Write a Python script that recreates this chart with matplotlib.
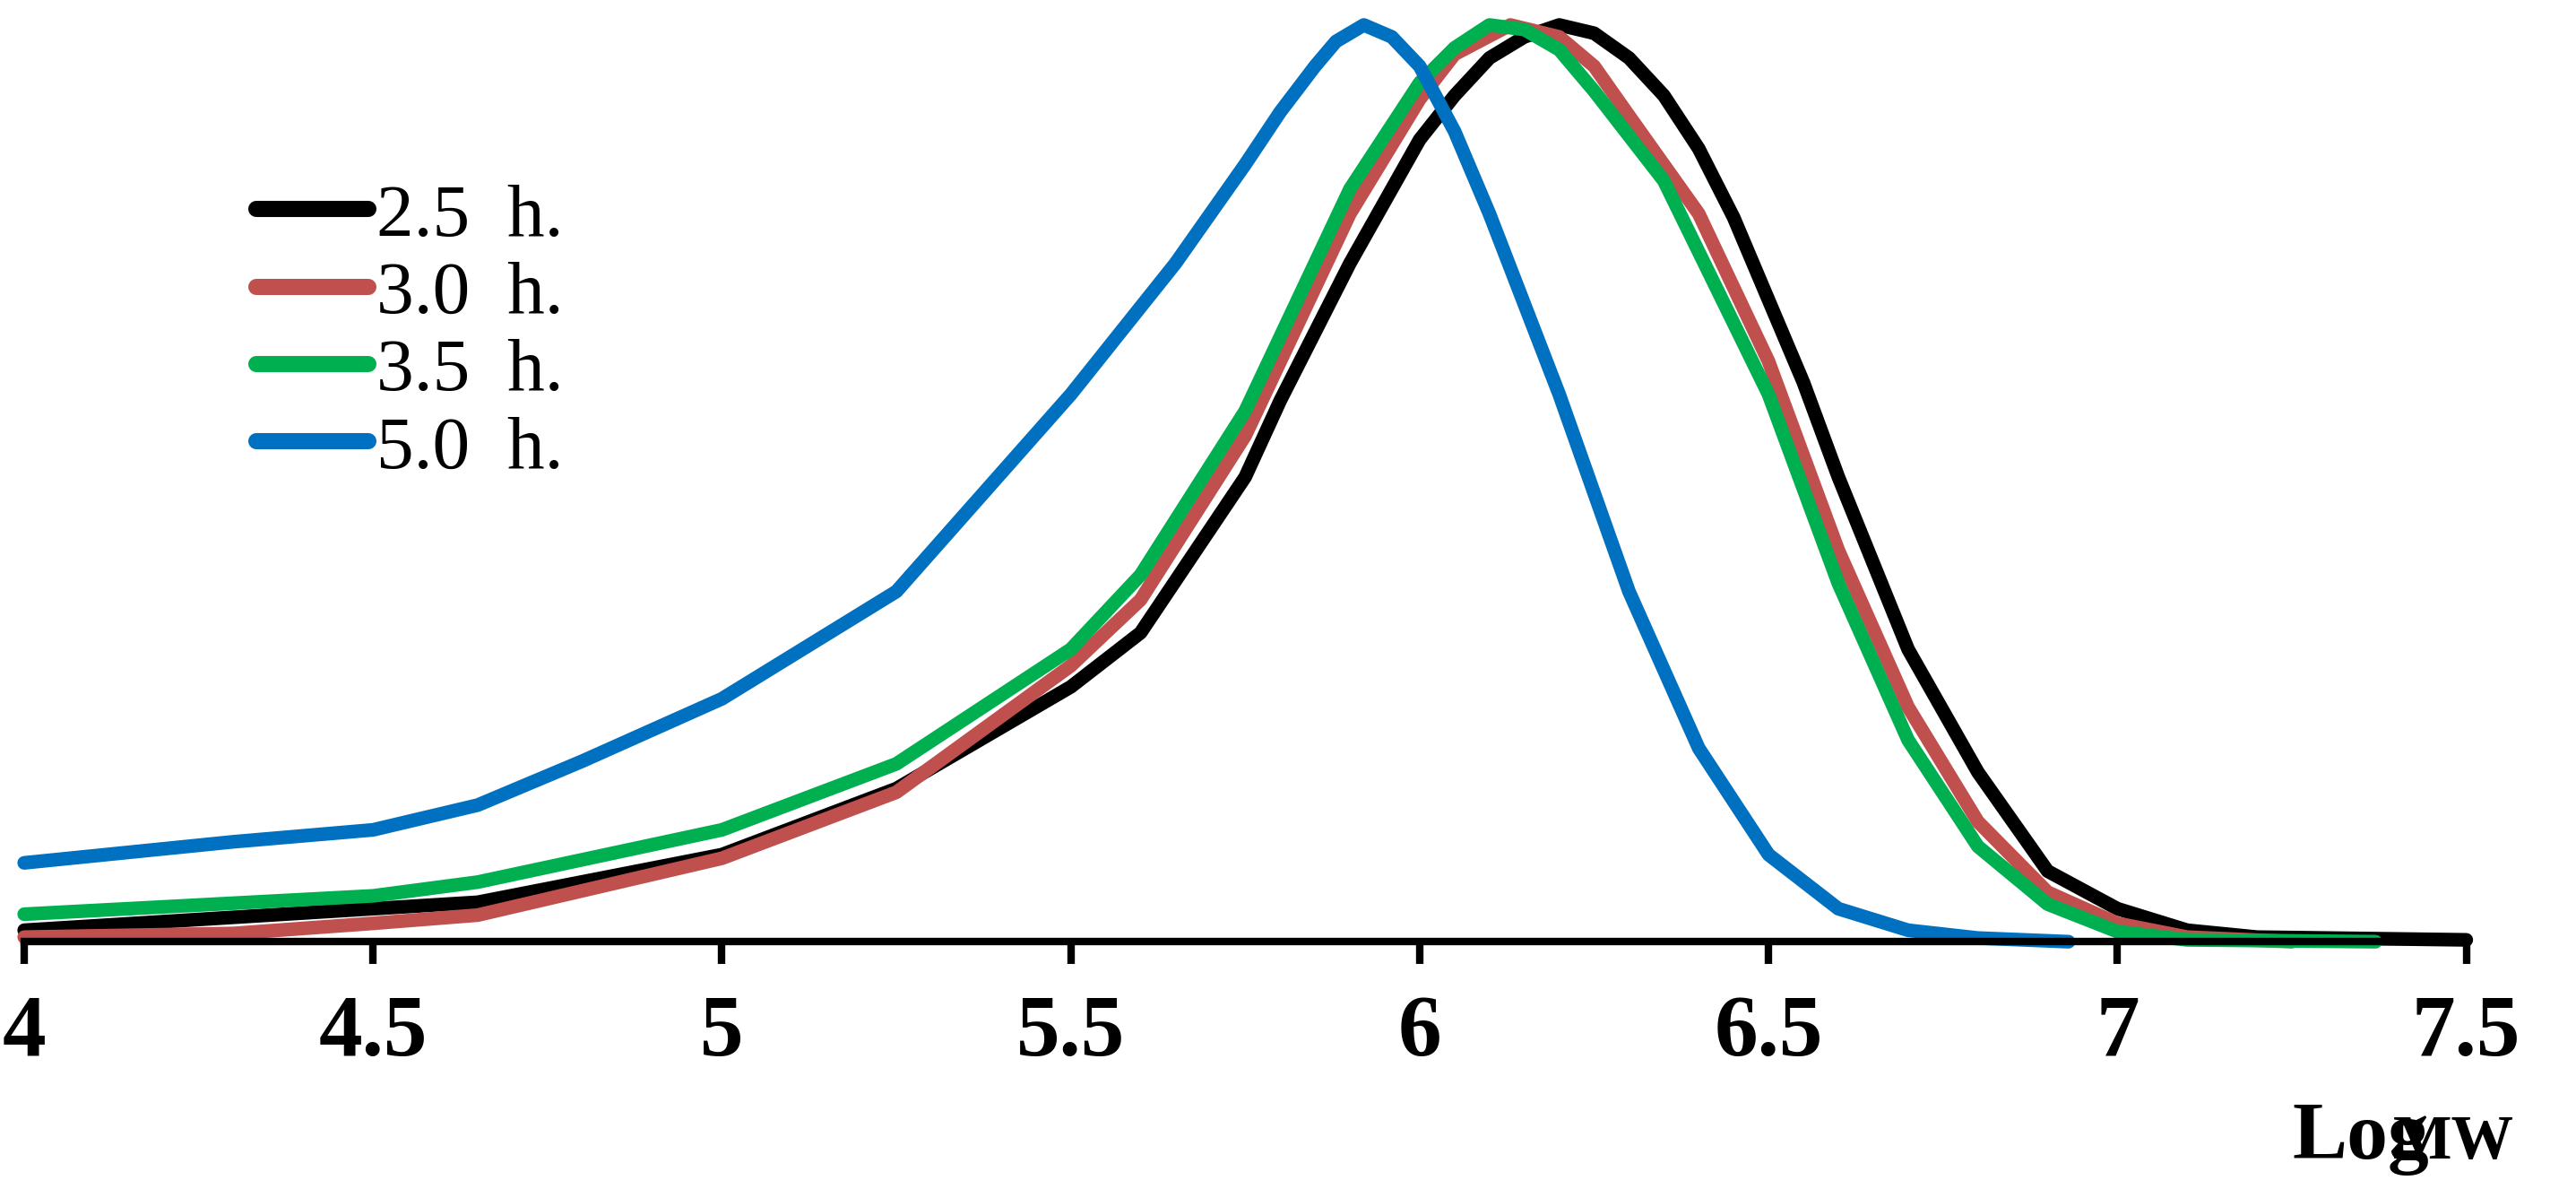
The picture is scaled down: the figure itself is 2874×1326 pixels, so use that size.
import matplotlib.pyplot as plt

# Curves (Log MW, normalised signal)
x_25 = [4.0, 4.5, 4.65, 5.0, 5.25, 5.5, 5.6, 5.75, 5.8, 5.9, 6.0, 6.05, 6.1, 6.15, 6.2, 6.25, 6.3, 6.35, 6.4, 6.45, 6.5, 6.55, 6.6, 6.7, 6.8, 6.9, 7.0, 7.1, 7.2, 7.5]
y_25 = [0.0125, 0.036, 0.043, 0.095, 0.167, 0.278, 0.337, 0.507, 0.59, 0.74, 0.875, 0.923, 0.964, 0.987, 1.0, 0.991, 0.964, 0.923, 0.865, 0.79, 0.70, 0.61, 0.507, 0.319, 0.185, 0.077, 0.036, 0.0125, 0.005, 0.002]

x_30 = [4.0, 4.3, 4.5, 4.65, 5.0, 5.25, 5.5, 5.6, 5.75, 5.9, 6.0, 6.05, 6.13, 6.2, 6.25, 6.3, 6.4, 6.5, 6.6, 6.7, 6.8, 6.9, 7.0, 7.1, 7.25]
y_30 = [0.005, 0.009, 0.020, 0.029, 0.091, 0.163, 0.301, 0.373, 0.552, 0.794, 0.919, 0.968, 1.0, 0.987, 0.955, 0.901, 0.794, 0.633, 0.427, 0.256, 0.131, 0.054, 0.020, 0.005, 0.0]

x_35 = [4.0, 4.5, 4.65, 5.0, 5.25, 5.5, 5.6, 5.75, 5.9, 6.0, 6.05, 6.1, 6.15, 6.2, 6.25, 6.35, 6.5, 6.6, 6.7, 6.8, 6.9, 7.0, 7.1, 7.37]
y_35 = [0.030, 0.050, 0.065, 0.122, 0.194, 0.319, 0.400, 0.579, 0.821, 0.937, 0.975, 1.0, 0.995, 0.973, 0.928, 0.830, 0.597, 0.391, 0.220, 0.104, 0.041, 0.011, 0.002, 0.0]

x_50 = [4.0, 4.3, 4.5, 4.65, 4.8, 5.0, 5.25, 5.5, 5.65, 5.75, 5.8, 5.85, 5.88, 5.92, 5.96, 6.0, 6.05, 6.1, 6.2, 6.3, 6.4, 6.5, 6.6, 6.7, 6.8, 6.93]
y_50 = [0.086, 0.109, 0.122, 0.149, 0.197, 0.265, 0.382, 0.597, 0.740, 0.848, 0.905, 0.955, 0.982, 1.0, 0.987, 0.955, 0.884, 0.794, 0.597, 0.382, 0.211, 0.095, 0.036, 0.0125, 0.004, 0.0]

series = [
    (x_25, y_25, "black", "2.5  h."),
    (x_30, y_30, "#c0504d", "3.0  h."),
    (x_35, y_35, "#00b050", "3.5  h."),
    (x_50, y_50, "#0070c0", "5.0  h."),
]

plt.rcParams["font.family"] = ["Liberation Serif", "DejaVu Serif"]

fig = plt.figure(figsize=(28.74, 13.26), dpi=100)
ax = fig.add_axes([0.0094, 0.208, 0.948, 0.771])

for xs, ys, col, lab in series:
    ax.plot(xs, ys, color=col, linewidth=11, solid_capstyle="round",
            solid_joinstyle="round", label=lab, clip_on=False)

ax.set_xlim(4, 7.5)
ax.set_ylim(0, 1)
for s in ["top", "right", "left"]:
    ax.spines[s].set_visible(False)
ax.spines["bottom"].set_linewidth(6)
ax.set_yticks([])
ax.set_xticks([4, 4.5, 5, 5.5, 6, 6.5, 7, 7.5])
ax.set_xticklabels(["4", "4.5", "5", "5.5", "6", "6.5", "7", "7.5"])
ax.tick_params(axis="x", direction="out", length=18, width=6, pad=24, labelsize=70)
for t in ax.get_xticklabels():
    t.set_fontweight("bold")

leg = ax.legend(loc="upper left", bbox_to_anchor=(0.083, 0.86), frameon=False,
                fontsize=60, handlelength=1.5, handletextpad=0.1, labelspacing=0.12,
                borderaxespad=0)
for h in leg.get_lines():
    h.set_linewidth(13)

fig.text(0.943, 0.026, "Log", fontsize=66, fontweight="bold", ha="right", va="baseline")
fig.text(0.976, 0.026, "MW", fontsize=50, fontweight="bold", ha="right", va="baseline")

fig.savefig("out.png", dpi=100)
